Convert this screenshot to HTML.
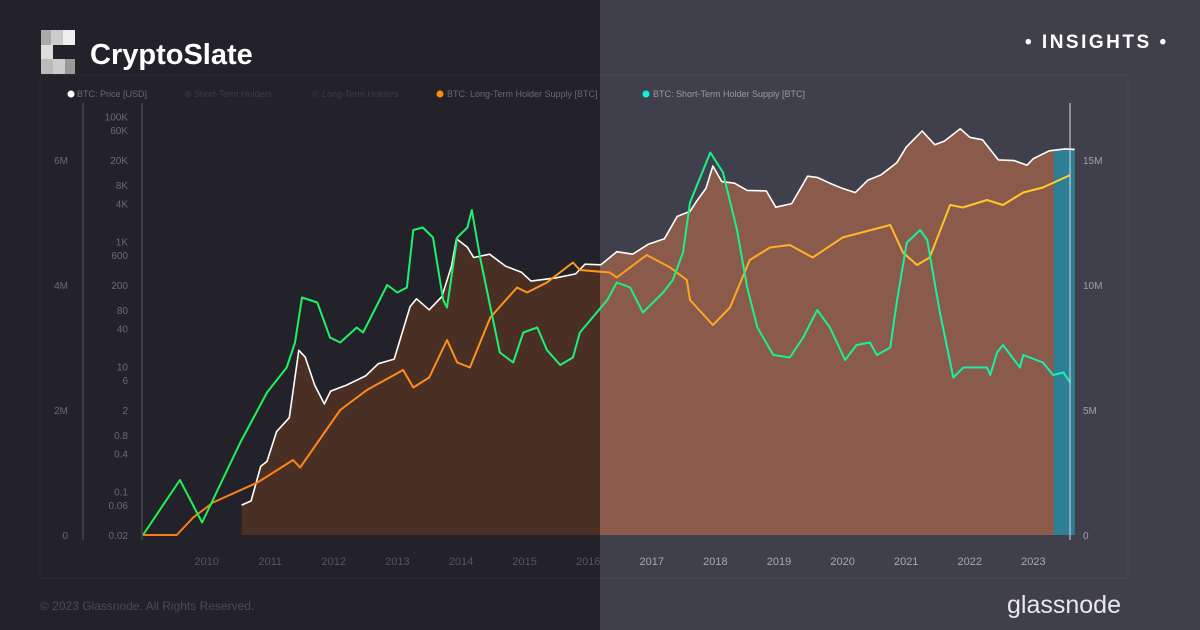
<!DOCTYPE html>
<html><head><meta charset="utf-8"><style>
html,body{margin:0;padding:0;width:1200px;height:630px;overflow:hidden;background:#23222b;font-family:"Liberation Sans",sans-serif}
svg{display:block}
</style></head><body>
<svg id="c" width="1200" height="630" xmlns="http://www.w3.org/2000/svg">
<defs>
<clipPath id="cl"><rect x="0" y="0" width="600" height="630"/></clipPath>
<clipPath id="cr"><rect x="600" y="0" width="600" height="630"/></clipPath>
<linearGradient id="gG" x1="0" x2="1200" y1="0" y2="0" gradientUnits="userSpaceOnUse"><stop offset="0" stop-color="#22f040"/><stop offset="0.5" stop-color="#1cf07a"/><stop offset="1" stop-color="#14f0c0"/></linearGradient>
<linearGradient id="gO" x1="0" x2="1200" y1="0" y2="0" gradientUnits="userSpaceOnUse"><stop offset="0" stop-color="#ff7010"/><stop offset="0.5" stop-color="#ff9a20"/><stop offset="1" stop-color="#ffe030"/></linearGradient>
</defs>
<rect x="0" y="0" width="600" height="630" fill="#23222b"/>
<rect x="600" y="0" width="600" height="630" fill="#40404d"/>
<rect x="40" y="75" width="1088" height="503" fill="none" stroke="#ffffff" stroke-opacity="0.04"/>
<g id="plot"></g>
<g id="axes"></g>
<g>
<rect x="41" y="30" width="10" height="15" fill="#aaa"/><rect x="51" y="30" width="12" height="15" fill="#ccc"/><rect x="63" y="30" width="12" height="15" fill="#eee"/>
<rect x="41" y="45" width="12" height="14" fill="#ddd"/><rect x="41" y="59" width="12" height="15" fill="#bbb"/><rect x="53" y="59" width="12" height="15" fill="#ccc"/><rect x="65" y="59" width="10" height="15" fill="#999"/>
<text x="90" y="64" font-size="29" font-weight="bold" fill="#fff">CryptoSlate</text>
</g>
<text x="1025" y="48" font-size="19" font-weight="bold" fill="#fff" letter-spacing="2.5">• INSIGHTS •</text>
<text x="40" y="610" font-size="12" fill="#4a4a52">© 2023 Glassnode. All Rights Reserved.</text>
<text x="1007" y="613" font-size="25" fill="#e8e8ee">glassnode</text>
<g font-size="9">
<g><circle cx="71" cy="94" r="3.5" fill="#fff"/><text x="77" y="97" fill="#6a6a72">BTC: Price [USD]</text></g>
<g><circle cx="188" cy="94" r="3.5" fill="#2a2f38"/><text x="194" y="97" fill="#3c3c44">Short-Term Holders</text></g>
<g><circle cx="315" cy="94" r="3.5" fill="#2e2a28"/><text x="322" y="97" fill="#3c3c44">Long-Term Holders</text></g>
<g><circle cx="440" cy="94" r="3.5" fill="#ff8a10"/><text x="447" y="97" fill="#6a6a72">BTC: Long-Term Holder Supply [BTC]</text></g>
<g><circle cx="646" cy="94" r="3.5" fill="#10f0e0"/><text x="653" y="97" fill="#9a9aa4">BTC: Short-Term Holder Supply [BTC]</text></g>
</g>
</svg>
<script>
const priceT=[2010.55,2010.7,2010.85,2010.95,2011.1,2011.3,2011.45,2011.55,2011.7,2011.85,2011.95,2012.2,2012.5,2012.7,2012.95,2013.2,2013.3,2013.5,2013.7,2013.85,2013.93,2014.1,2014.2,2014.45,2014.7,2014.95,2015.1,2015.5,2015.8,2015.95,2016.2,2016.45,2016.7,2016.95,2017.2,2017.4,2017.6,2017.7,2017.85,2017.96,2018.1,2018.3,2018.5,2018.8,2018.95,2019.2,2019.45,2019.6,2019.8,2019.97,2020.2,2020.4,2020.6,2020.85,2021.0,2021.25,2021.45,2021.6,2021.85,2022.0,2022.2,2022.45,2022.7,2022.9,2023.0,2023.25,2023.5,2023.65];
const priceV=[0.06,0.07,0.25,0.3,0.9,1.5,18,14,5,2.5,4,5,7,11,13,90,120,80,130,400,1100,800,550,620,400,320,230,260,300,430,420,680,620,900,1100,2500,3000,4300,7000,16000,9000,8500,6500,6400,3500,4000,11000,10500,8500,7200,6000,9500,11500,18000,32000,58000,35000,40000,63000,46000,42000,20000,19500,16500,21000,28000,30000,29500];
const lthT=[2009.0,2009.53,2009.79,2010.1,2010.8,2011.36,2011.47,2012.1,2012.52,2013.09,2013.25,2013.5,2013.78,2013.94,2014.14,2014.46,2014.88,2015.04,2015.35,2015.76,2015.87,2016.34,2016.45,2016.92,2017.29,2017.55,2017.6,2017.96,2018.23,2018.54,2018.86,2019.17,2019.53,2020.0,2020.75,2020.95,2021.17,2021.37,2021.69,2021.89,2022.27,2022.52,2022.84,2023.15,2023.58];
const lthV=[0,0,0.7,1.3,2.1,3.0,2.7,5.0,5.8,6.6,5.9,6.3,7.8,6.9,6.7,8.7,9.9,9.7,10.1,10.9,10.6,10.5,10.3,11.2,10.7,10.2,9.4,8.4,9.1,11.0,11.5,11.6,11.1,11.9,12.4,11.3,10.8,11.1,13.2,13.1,13.4,13.2,13.7,13.9,14.4];
const sthT=[2009.0,2009.58,2009.93,2010.53,2010.95,2011.26,2011.39,2011.5,2011.74,2011.94,2012.1,2012.36,2012.46,2012.84,2013.0,2013.15,2013.25,2013.4,2013.56,2013.72,2013.78,2013.94,2014.1,2014.17,2014.3,2014.61,2014.82,2014.98,2015.2,2015.35,2015.56,2015.76,2015.87,2016.3,2016.45,2016.66,2016.86,2017.18,2017.33,2017.49,2017.6,2017.92,2018.12,2018.34,2018.5,2018.66,2018.91,2019.17,2019.38,2019.6,2019.8,2020.04,2020.22,2020.43,2020.54,2020.75,2020.85,2021.01,2021.22,2021.33,2021.53,2021.74,2021.9,2022.27,2022.32,2022.43,2022.52,2022.79,2022.84,2023.15,2023.31,2023.47,2023.58];
const sthV=[0,2.2,0.5,3.7,5.7,6.7,7.7,9.5,9.3,7.9,7.7,8.3,8.1,10.0,9.7,9.9,12.2,12.3,11.9,9.4,9.1,11.9,12.3,13.0,11.1,7.3,6.9,8.1,8.3,7.4,6.8,7.1,8.1,9.4,10.1,9.9,8.9,9.7,10.2,11.3,13.3,15.3,14.5,12.2,9.9,8.3,7.2,7.1,7.9,9.0,8.3,7.0,7.6,7.7,7.2,7.5,9.3,11.7,12.2,11.8,8.9,6.3,6.7,6.7,6.4,7.3,7.6,6.7,7.2,6.9,6.4,6.5,6.1];
const yearTicks=[2010,2011,2012,2013,2014,2015,2016,2017,2018,2019,2020,2021,2022,2023];
const priceTicks=[0.02,0.06,0.1,0.4,0.8,2,6,10,40,80,200,600,1000,4000,8000,20000,60000,100000];
const priceTickLabels=["0.02","0.06","0.1","0.4","0.8","2","6","10","40","80","200","600","1K","4K","8K","20K","60K","100K"];
const leftTicks=[0,2,4,6];
const rightTicks=[0,5,10,15];
const tEnd=2023.65, highlightStart=2023.32;

const NS="http://www.w3.org/2000/svg";
const xS=t=>143+(t-2009)*63.6;
const yP=p=>535-(Math.log10(p)+1.7)*62.5;
const yR=m=>535-m*25;
const yL=m=>535-m*62.5;
function mk(tag,attrs,parent){const e=document.createElementNS(NS,tag);for(const k in attrs)e.setAttribute(k,attrs[k]);parent.appendChild(e);return e;}
const plot=document.getElementById('plot'),axes=document.getElementById('axes');
const pPts=priceT.map((t,i)=>[xS(t),yP(priceV[i])]);
const pLine=pPts.map((p,i)=>(i?'L':'M')+p[0].toFixed(1)+','+p[1].toFixed(1)).join('');
const areaD=pLine+'L'+pPts[pPts.length-1][0].toFixed(1)+',535L'+pPts[0][0].toFixed(1)+',535Z';
const aL=mk('path',{d:areaD,fill:'#4a2f25','clip-path':'url(#cl)'},plot);


const aR=mk('path',{d:areaD,fill:'#8a5a4a','clip-path':'url(#cr)'},plot);


const hx=xS(highlightStart);
const cp=mk('clipPath',{id:'ch'},plot);mk('rect',{x:hx,y:0,width:200,height:630},cp);
const hl=mk('path',{d:areaD,fill:'#2e7f95','clip-path':'url(#ch)'},plot);


const pl=mk('path',{d:pLine,fill:'none',stroke:'#fff','stroke-width':1.6,'stroke-linejoin':'round'},plot);


function line(T,V,col){const d=T.map((t,i)=>(i?'L':'M')+xS(t).toFixed(1)+','+yR(V[i]).toFixed(1)).join('');
const e=mk('path',{d:d,fill:'none',stroke:col,'stroke-width':2,'stroke-linejoin':'round'},plot);return e;}
const lo=line(lthT,lthV,'url(#gO)');


const sg=line(sthT,sthV,'url(#gG)');


mk('line',{x1:83,y1:103,x2:83,y2:540,stroke:'#55555f','stroke-width':1},axes);
mk('line',{x1:142,y1:103,x2:142,y2:540,stroke:'#55555f','stroke-width':1},axes);
mk('line',{x1:1070,y1:103,x2:1070,y2:540,stroke:'#d8d8e0','stroke-width':1},axes);
priceTicks.forEach((p,i)=>{const e=mk('text',{x:128,y:yP(p)+4,'font-size':10,'text-anchor':'end',fill:'#6a6a72'},axes);e.textContent=priceTickLabels[i];

});
leftTicks.forEach(m=>{const e=mk('text',{x:68,y:yL(m)+4,'font-size':10,'text-anchor':'end',fill:'#6a6a72'},axes);e.textContent=m?m+'M':'0';

});
rightTicks.forEach(m=>{const e=mk('text',{x:1083,y:yR(m)+4,'font-size':10,fill:'#a0a0aa'},axes);e.textContent=m?m+'M':'0';

});
yearTicks.forEach(y=>{const x=xS(y);const e=mk('text',{x:x,y:565,'font-size':11,'text-anchor':'middle',fill:x<600?'#55555e':'#a8a8b2'},axes);e.textContent=y;

});
</script>
</body></html>
